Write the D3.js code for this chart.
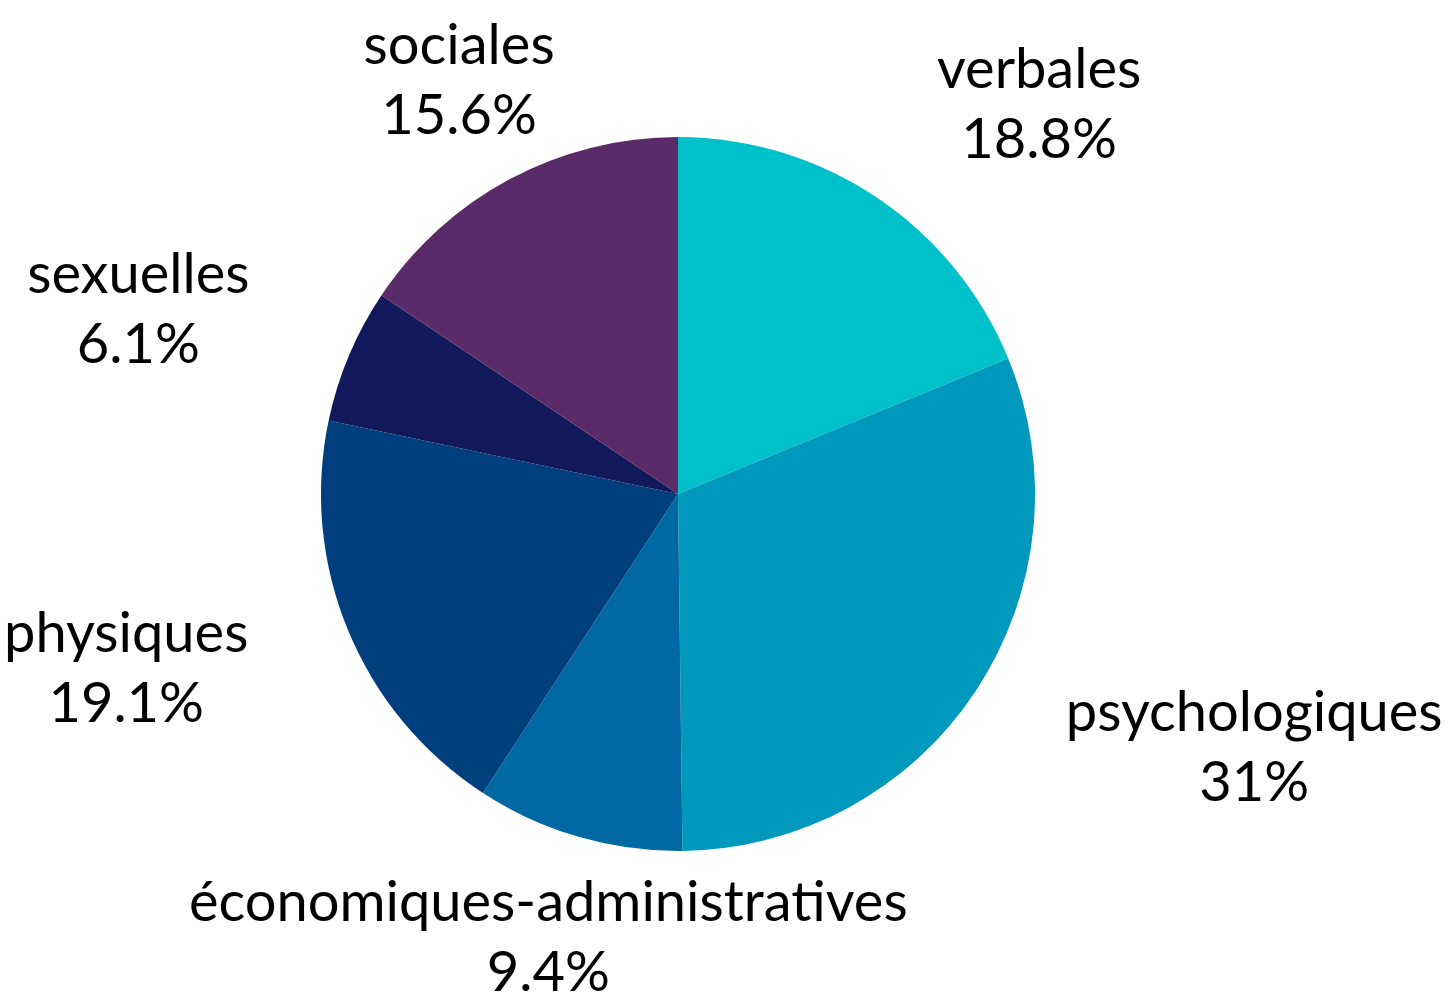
<!DOCTYPE html>
<html>
<head>
<meta charset="utf-8">
<script src="https://cdn.jsdelivr.net/npm/d3@7"></script>
<style>
  body { margin: 0; background: #fff; }
  text { font-family: Lato, sans-serif; fill: #000; }
</style>
</head>
<body>
<div id="chart"></div>
<script>
var categories = ['verbales', 'psychologiques', 'économiques-administratives', 'physiques', 'sexuelles', 'sociales']
var values = [18.8, 31, 9.4, 19.1, 6.1, 15.6]
var colors = ['#00c0ca', '#0098bd', '#0069a3', '#003e7e', '#12195a', '#5a2a69']

var w = 1450, h = 993
var cx = 678, cy = 494
var radius = 357
var labelRadius = 465

var data = categories.map(function(c, i) { return { name: c, value: values[i] } })

var svg = d3.select('#chart')
  .append('svg')
  .attr('width', w)
  .attr('height', h)

var g = svg.append('g')
  .attr('transform', 'translate(' + cx + ',' + cy + ')')

var pie = d3.pie()
  .value(function(d) { return d.value })
  .sort(null)

var arc = d3.arc()
  .innerRadius(0)
  .outerRadius(radius)

var labelArc = d3.arc()
  .innerRadius(labelRadius)
  .outerRadius(labelRadius)

var arcs = pie(data)

g.selectAll('.slice')
  .data(arcs)
  .enter().append('path')
  .attr('class', 'slice')
  .attr('d', arc)
  .style('fill', function(d, i) { return colors[i] })

// labels: two centred lines, block pushed outward depending on side
var labels = g.selectAll('.label')
  .data(arcs)
  .enter().append('text')
  .attr('class', 'label')
  .style('font-size', '56px')
  .attr('text-anchor', 'middle')
  .attr('transform', function(d) { return 'translate(' + labelArc.centroid(d) + ')' })

labels.append('tspan')
  .attr('class', 'name')
  .attr('y', -20)
  .text(function(d) { return d.data.name })

labels.append('tspan')
  .attr('class', 'pct')
  .attr('y', 50)
  .text(function(d) { return d.data.value + '%' })

labels.each(function(d) {
  var t = d3.select(this)
  var bw = Math.max(t.select('.name').node().getComputedTextLength(),
                    t.select('.pct').node().getComputedTextLength())
  var s = Math.sin((d.startAngle + d.endAngle) / 2)
  var x = 0
  if (Math.abs(s) >= 0.5) x = s > 0 ? bw / 2 : -bw / 2
  t.selectAll('tspan').attr('x', x)
})
</script>
</body>
</html>
